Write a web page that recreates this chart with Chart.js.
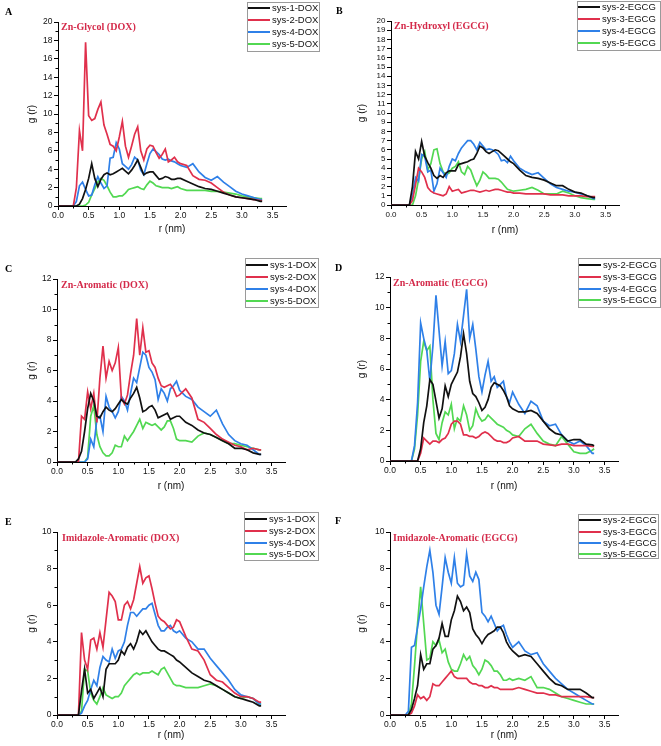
<!DOCTYPE html>
<html><head><meta charset="utf-8">
<script src="https://cdn.jsdelivr.net/npm/chart.js@4.4.0/dist/chart.umd.min.js"></script>
<style>
html,body{margin:0;padding:0;background:#fff;}
body{width:661px;height:746px;position:relative;overflow:hidden;}
canvas{position:absolute;}
</style></head><body>
<canvas id="cA"></canvas><canvas id="cB"></canvas><canvas id="cC"></canvas>
<canvas id="cD"></canvas><canvas id="cE"></canvas><canvas id="cF"></canvas>
<script>
// ---------- DATA ----------
const r = [0, 0.25,0.3,0.35,0.4,0.45,0.5,0.55,0.6,0.65,
  0.7,0.75,0.8,0.85,0.9,0.95,1.0,1.05,1.1,1.15,
  1.2,1.25,1.3,1.35,1.4,1.45,1.5,1.55,1.6,1.65,
  1.7,1.75,1.8,1.85,1.9,1.95,2.0,
  2.1,2.2,2.3,2.4,2.5,2.6,2.7,2.8,2.9,3.0,3.1,3.2,3.3,
  3.33];

// Panel A: Zn-Glycol (DOX)
const aSys1 = [0,0,0,0.2,0.8,1.8,3.0,4.6,3.0,2.1, 2.9,3.4,3.6,3.4,3.5,3.7,3.9,4.1,3.8,3.5, 3.9,4.4,5.0,4.2,3.4,3.6,3.7,3.7,3.3,2.9, 3.0,3.2,3.1,2.9,2.9,3.0,3.0, 2.7,2.4,2.1,1.9,1.8,1.6,1.4,1.2,1.0,0.9,0.8,0.7,0.5, 0.5];
const aSys2 = [0,0,2.0,8.2,6.0,17.8,9.8,9.3,9.5,10.5, 11.3,8.8,7.8,6.7,6.5,6.0,7.5,9.2,6.5,5.3, 6.5,7.8,8.6,6.0,5.0,6.2,6.6,6.5,5.8,5.2, 5.6,6.2,4.8,5.0,5.3,4.8,4.6, 4.4,3.3,2.9,2.8,2.5,2.0,1.5,1.2,1.0,0.9,0.8,0.7,0.6, 0.6];
const aSys4 = [0,0,0.5,2.2,2.6,1.8,1.1,1.2,2.3,3.2, 2.5,1.9,2.2,5.2,5.3,6.9,6.2,4.6,4.3,4.0, 4.5,5.3,5.0,3.9,3.4,4.6,5.7,6.2,5.9,5.6, 5.1,5.0,5.1,4.9,4.8,4.6,4.4, 4.2,4.6,3.7,3.1,2.8,3.2,2.6,2.1,1.6,1.3,1.1,0.9,0.7, 0.7];
const aSys5 = [0,0,0,0,0,0.1,0.4,1.2,1.9,2.6, 3.0,2.8,2.2,1.5,1.0,1.0,1.1,1.1,1.4,1.8, 1.9,2.0,2.1,1.9,1.8,2.3,2.7,2.5,2.2,2.1, 2.0,2.0,2.0,1.9,2.0,2.1,1.9, 1.7,1.7,1.7,1.7,1.6,1.6,1.5,1.4,1.3,1.1,1.0,0.9,0.8, 0.8];

// Panel B: Zn-Hydroxyl (EGCG)
const bSys2 = [0,0,0,2.0,5.8,5.0,6.9,5.3,4.6,4.0, 3.2,2.9,3.2,3.0,3.5,3.7,3.7,3.7,4.4,4.5, 4.6,4.7,4.9,5.0,5.6,6.4,6.2,5.8,5.6,5.8, 6.0,5.9,5.6,5.3,5.0,4.7,4.5, 3.8,3.2,3.0,2.9,2.7,2.4,2.1,2.1,1.7,1.4,1.3,1.0,0.8, 0.8];
const bSys3 = [0,0,0,0.5,2.2,4.0,3.6,3.0,1.9,1.5, 1.3,1.2,1.1,1.0,1.2,2.0,1.5,1.6,1.7,1.3, 1.4,1.5,1.6,1.6,1.5,1.4,1.5,1.6,1.5,1.6, 1.7,1.7,1.6,1.5,1.4,1.4,1.3, 1.3,1.2,1.2,1.2,1.2,1.1,1.1,1.1,1.0,1.0,1.0,0.9,0.9, 0.9];
const bSys4 = [0,0,0,1.0,3.0,2.6,5.5,5.3,3.6,3.8, 1.5,2.3,4.0,3.5,3.0,4.2,5.0,4.8,5.6,6.2, 6.6,7.0,7.0,6.6,6.0,6.8,6.4,6.0,6.1,6.0, 5.8,5.5,4.8,4.9,4.6,5.3,4.8, 4.0,3.6,3.3,3.5,2.9,2.3,1.9,1.7,1.5,1.4,1.2,1.0,0.7, 0.7];
const bSys5 = [0,0,0,0,1.0,2.8,5.0,5.8,3.8,4.5, 6.0,6.1,4.5,3.6,3.3,3.5,4.0,4.2,4.7,3.6, 3.3,4.2,3.8,2.9,2.1,2.7,3.6,3.3,2.9,2.9, 2.9,2.8,2.5,2.1,1.7,1.6,1.5, 1.6,1.7,1.9,1.6,1.2,1.2,1.2,1.5,1.3,1.0,0.8,0.7,0.6, 0.6];

// Panel C: Zn-Aromatic (DOX)
const cSys1 = [0,0,0,0.2,0.7,2.0,3.5,4.5,4.0,3.0, 2.9,3.3,3.6,3.4,3.3,3.5,3.8,4.1,3.9,3.8, 4.2,4.5,4.9,4.2,3.3,3.4,3.6,3.7,3.4,2.9, 3.0,3.1,3.2,2.8,2.9,3.0,3.0, 2.6,2.4,2.1,1.9,1.8,1.6,1.4,1.2,0.9,0.9,0.8,0.6,0.5, 0.5];
const cSys2 = [0,0,0,0,3.0,2.8,4.6,3.5,4.5,2.6, 5.5,7.6,5.5,6.6,6.0,6.5,7.5,4.2,3.8,4.4, 5.8,7.0,9.4,7.0,8.8,7.2,7.3,6.5,6.2,5.5, 5.0,4.9,5.0,5.1,4.8,4.3,4.4, 4.8,4.2,2.8,2.6,2.2,1.8,1.5,1.3,1.1,1.0,0.8,0.9,0.8, 0.8];
const cSys4 = [0,0,0,0,0,0,0.2,1.5,1.0,2.8, 3.0,2.0,4.3,3.6,3.3,2.9,3.3,4.3,4.0,3.4, 4.5,5.5,5.2,6.2,7.2,7.0,6.2,5.9,5.4,4.1, 4.8,4.5,4.0,4.8,5.0,5.3,4.7, 4.3,4.1,3.6,3.3,3.0,3.4,2.5,1.8,1.4,1.2,1.1,0.8,0.5, 0.5];
const cSys5 = [0,0,0,0,0,0,0.3,3.0,3.7,1.8, 1.0,0.6,0.4,0.4,0.6,1.1,1.0,1.0,1.7,1.4, 1.7,2.0,2.4,2.8,2.2,2.6,2.5,2.4,2.5,2.3, 2.1,2.3,2.7,2.7,2.2,1.5,1.4, 1.4,1.3,1.7,1.9,1.8,1.6,1.4,1.2,1.2,1.1,1.0,0.9,0.8, 0.8];

// Panel D: Zn-Aromatic (EGCG)
const dSys2 = [0,0,0,0,0,0,0.8,2.5,3.6,5.3, 5.0,3.9,2.8,3.4,4.9,4.2,5.0,5.4,5.8,6.8, 8.3,7.0,5.2,4.4,4.2,3.8,3.3,3.5,4.0,4.8, 5.1,5.0,4.9,4.6,4.2,3.6,3.4, 3.2,3.2,3.3,3.1,2.6,2.1,1.8,1.7,1.3,1.4,1.4,1.1,1.05, 1.0];
const dSys3 = [0,0,0,0,0,0,0.5,1.5,1.3,1.1, 1.3,1.3,1.2,1.4,1.5,1.8,2.4,2.6,2.6,2.4, 1.7,1.7,1.6,1.6,1.5,1.6,1.8,1.9,1.8,1.6, 1.4,1.3,1.3,1.2,1.2,1.3,1.5, 1.6,1.3,1.3,1.3,1.1,1.05,1.0,1.1,1.1,1.0,1.0,1.0,0.95, 0.95];
const dSys4 = [0,0,0,0,1.0,3.8,9.0,8.0,7.2,5.2, 7.5,10.8,8.5,6.2,7.8,5.7,5.9,7.0,8.9,7.8, 9.5,11.2,8.0,8.9,7.3,5.5,4.5,5.6,6.5,5.2, 5.5,4.8,5.0,5.2,4.2,3.8,4.5, 3.7,3.1,3.9,3.6,2.6,2.3,2.4,1.7,1.3,1.1,1.3,1.0,0.5, 0.5];
const dSys5 = [0,0,0,0,0.8,3.0,6.5,7.8,7.2,7.5, 4.0,1.8,1.4,2.5,3.2,3.0,3.7,2.1,2.8,2.6, 3.6,3.0,2.0,2.3,3.4,2.9,2.6,2.7,3.0,2.8, 2.6,2.4,2.3,2.2,2.0,1.9,1.7, 1.6,2.1,2.4,1.8,1.3,1.1,1.0,1.6,1.1,0.6,0.5,0.5,0.7, 0.8];

// Panel E: Imidazole-Aromatic (DOX)
const eSys1 = [0,0,0,0,1.3,2.5,1.2,1.4,0.9,1.2, 1.5,1.0,2.5,2.8,2.8,2.8,3.0,3.5,3.3,3.7, 3.9,3.6,4.0,4.6,4.4,4.6,4.3,4.0,3.8,3.6, 3.5,3.5,3.4,3.3,3.2,3.0,2.9, 2.6,2.3,2.1,1.9,1.8,1.6,1.4,1.2,1.0,0.9,0.8,0.7,0.5, 0.5];
const eSys2 = [0,0,0,0,4.5,3.0,2.5,4.1,4.2,3.6, 4.5,3.7,5.2,6.7,6.5,6.2,5.2,5.2,6.0,6.2, 5.8,6.3,7.2,8.1,7.2,7.5,7.6,6.9,6.1,5.4, 5.2,5.1,4.9,4.7,4.8,5.2,5.1, 4.3,3.6,3.5,3.0,2.2,1.9,1.8,1.5,1.2,1.0,1.0,0.9,0.7, 0.7];
const eSys4 = [0,0,0,0,0.1,0.5,0.8,1.4,1.9,1.6, 2.6,3.2,3.0,2.9,3.6,3.1,3.5,3.6,4.0,4.9, 5.6,5.6,5.4,5.6,5.8,5.8,6.0,6.1,5.5,4.9, 4.6,4.6,4.8,4.9,4.6,4.5,4.6, 4.2,4.0,3.6,3.6,3.1,2.7,2.3,1.9,1.4,1.1,1.0,0.9,0.6, 0.6];
const eSys5 = [0,0,0,0,0.2,2.5,2.4,1.2,0.8,0.6, 1.0,1.5,1.1,1.0,0.9,1.0,1.0,1.2,1.6,1.8, 2.0,2.2,2.3,2.2,2.3,2.3,2.3,2.4,2.3,2.2, 2.5,2.6,2.3,2.0,1.7,1.6,1.6, 1.5,1.5,1.5,1.6,1.7,1.6,1.4,1.2,1.0,0.9,1.0,0.9,0.6, 0.6];

// Panel F: Imidazole-Aromatic (EGCG)
const fSys2 = [0,0,0,0.3,0.9,1.6,3.3,2.5,2.8,2.8, 3.6,3.8,4.2,5.0,4.3,4.3,5.2,5.7,6.5,6.2, 5.7,5.9,5.6,4.7,4.4,4.2,3.9,4.2,4.4,4.5, 4.6,4.8,4.8,4.5,4.0,3.7,3.5, 3.2,3.3,3.2,2.8,2.4,2.0,1.7,1.6,1.4,1.4,1.4,1.2,0.95, 0.95];
const fSys3 = [0,0,0,0.1,0.5,1.1,0.9,1.0,0.8,1.0, 1.7,1.6,1.6,1.8,2.0,2.2,2.4,2.1,2.0,2.0, 2.0,2.0,1.8,1.7,1.7,1.6,1.6,1.5,1.5,1.6, 1.5,1.5,1.4,1.4,1.4,1.4,1.4, 1.5,1.4,1.3,1.2,1.2,1.1,1.1,1.0,1.0,1.0,1.0,1.0,0.95, 0.95];
const fSys4 = [0,0,0.2,3.7,3.8,4.8,5.8,7.0,8.1,9.0, 7.8,6.0,5.5,7.0,8.6,7.8,7.2,8.6,7.2,7.0, 7.1,8.8,7.6,7.3,7.8,7.4,5.6,5.4,5.1,5.4, 5.0,4.6,4.8,4.9,4.4,4.0,3.7, 4.0,3.5,3.3,3.4,2.8,2.4,2.0,1.7,1.4,1.2,1.0,0.8,0.6, 0.6];
const fSys5 = [0,0,0,0.6,2.7,5.0,7.0,5.0,3.0,3.1, 4.0,3.8,4.1,3.4,3.6,2.9,2.5,2.4,2.4,2.8, 3.3,3.0,3.2,2.7,2.5,2.2,2.5,3.0,2.9,2.7, 2.4,2.4,2.2,1.9,1.9,2.0,1.9, 2.0,1.9,2.1,1.5,1.5,1.4,1.2,1.0,0.9,0.8,0.7,0.6,0.6, 0.6];

const doxLabels  = ['sys-1-DOX','sys-2-DOX','sys-4-DOX','sys-5-DOX'];
const egcgLabels = ['sys-2-EGCG','sys-3-EGCG','sys-4-EGCG','sys-5-EGCG'];
const panelLetters = ['A','B','C','D','E','F'];
const panelTitles = ['Zn-Glycol (DOX)','Zn-Hydroxyl (EGCG)','Zn-Aromatic (DOX)','Zn-Aromatic (EGCG)','Imidazole-Aromatic (DOX)','Imidazole-Aromatic (EGCG)'];
const yMaxes = [20,20,12,12,10,10];
const ySteps = [2,1,2,2,2,2];
const xTickStep = 0.5, xLastTick = 3.5, xAxisMax = 3.72;
const xAxisLabel = 'r (nm)', yAxisLabel = 'g (r)';

const panelSeries = [
  [aSys1,aSys2,aSys4,aSys5],[bSys2,bSys3,bSys4,bSys5],
  [cSys1,cSys2,cSys4,cSys5],[dSys2,dSys3,dSys4,dSys5],
  [eSys1,eSys2,eSys4,eSys5],[fSys2,fSys3,fSys4,fSys5]
];
const panelLabels = [doxLabels,egcgLabels,doxLabels,egcgLabels,doxLabels,egcgLabels];

// ---------- STYLE / LAYOUT ----------
const seriesColors = ['#111111','#e0304c','#2f80e8','#52d852'];
const boxes = [
  {id:'cA',cx:0,  cy:0,  w:330,h:245,x0:58, yTop:22, y0:206,xT:229,yT:32, leg:[247,2,319,51],  rows:[8,20,32,44],  letter:[5,12],  title:[61,27]},
  {id:'cB',cx:330,cy:0,  w:331,h:245,x0:391,yTop:21, y0:205,xT:230,yT:362,leg:[577,1,660,50],  rows:[7,19,31,43],  letter:[336,11],title:[394,26]},
  {id:'cC',cx:0,  cy:250,w:330,h:245,x0:57, yTop:279,y0:462,xT:486,yT:32, leg:[245,258,318,307],rows:[265,277,289,301],letter:[5,269],title:[61,285]},
  {id:'cD',cx:330,cy:250,w:331,h:245,x0:390,yTop:277,y0:461,xT:486,yT:362,leg:[578,258,660,307],rows:[265,277,289,300],letter:[335,268],title:[393,283]},
  {id:'cE',cx:0,  cy:500,w:330,h:246,x0:57, yTop:532,y0:715,xT:735,yT:32, leg:[244,512,318,560],rows:[519,531,543,554],letter:[5,522],title:[62,538]},
  {id:'cF',cx:330,cy:500,w:331,h:246,x0:390,yTop:532,y0:715,xT:735,yT:362,leg:[578,514,658,558],rows:[520,532,543,554],letter:[335,521],title:[393,538]}
];
const pxPerNm = 61.3;
const sans = '"Liberation Sans", Arial, sans-serif';
const serif = '"Liberation Serif", "Times New Roman", serif';

const decor = {
  id:'decor',
  afterDraw(chart, args, o) {
    const ctx = chart.ctx, B = o.box, ox = B.cx, oy = B.cy;
    const xs = chart.scales.x, ys = chart.scales.y;
    ctx.save();
    ctx.strokeStyle = '#000'; ctx.lineWidth = 1;
    ctx.beginPath();
    for (let v = xTickStep/2; v < xs.max; v += xTickStep) {
      const px = Math.round(xs.getPixelForValue(v)) + 0.5;
      ctx.moveTo(px, xs.top); ctx.lineTo(px, xs.top + 2.5);
    }
    if (o.yMinor) {
      for (let v = o.yMinor; v < ys.max; v += o.yMinor*2) {
        const py = Math.round(ys.getPixelForValue(v)) + 0.5;
        ctx.moveTo(ys.right, py); ctx.lineTo(ys.right - 2.5, py);
      }
    }
    ctx.stroke();
    ctx.fillStyle = '#d42a4a';
    ctx.font = 'bold 10px ' + serif;
    ctx.textBaseline = 'middle'; ctx.textAlign = 'left';
    ctx.fillText(o.title, B.title[0]-ox, B.title[1]-oy);
    ctx.fillStyle = '#000';
    ctx.font = 'bold 10px ' + serif;
    ctx.fillText(o.letter, B.letter[0]-ox, B.letter[1]-oy);
    const L = B.leg;
    ctx.strokeStyle = '#9a9a9a'; ctx.lineWidth = 1;
    ctx.strokeRect(L[0]-ox+0.5, L[1]-oy+0.5, L[2]-L[0], L[3]-L[1]);
    ctx.font = '9.5px ' + sans;
    chart.data.datasets.forEach((ds, i) => {
      const y = B.rows[i]-oy;
      ctx.strokeStyle = ds.borderColor; ctx.lineWidth = 2;
      ctx.beginPath(); ctx.moveTo(L[0]-ox+1, y); ctx.lineTo(L[0]-ox+23, y); ctx.stroke();
      ctx.fillStyle = '#111';
      ctx.fillText(ds.label, L[0]-ox+25, y);
    });
    ctx.restore();
  }
};

boxes.forEach((B, p) => {
  const cv = document.getElementById(B.id);
  cv.width = B.w; cv.height = B.h;
  cv.style.left = B.cx + 'px'; cv.style.top = B.cy + 'px';
  const xEnd = B.x0 + xAxisMax * pxPerNm;
  const datasets = panelSeries[p].map((arr, i) => ({
    label: panelLabels[p][i],
    data: r.map((x, k) => ({x: x, y: arr[k]})),
    borderColor: seriesColors[i],
    borderWidth: 1.7,
    pointRadius: 0,
    tension: 0,
    fill: false
  }));
  const tickFont = {family: sans, size: p === 1 ? 8 : 8.5};
  const titleFont = {family: sans, size: 10};
  new Chart(cv, {
    type: 'line',
    data: {datasets},
    options: {
      responsive: false, animation: false, devicePixelRatio: 1,
      layout: {padding: {left: 0, top: B.yTop - B.cy, right: B.cx + B.w - xEnd, bottom: 0}},
      plugins: {
        legend: {display: false}, tooltip: {enabled: false},
        decor: {box: B, title: panelTitles[p], letter: panelLetters[p], yMinor: p === 1 ? 0 : ySteps[p]/2}
      },
      scales: {
        x: {
          type: 'linear', min: 0, max: xAxisMax,
          afterFit: s => { s.height = B.cy + B.h - B.y0; },
          afterBuildTicks: s => { s.ticks = s.ticks.filter(t => t.value <= xLastTick + 1e-6); },
          ticks: {stepSize: xTickStep, includeBounds: false, autoSkip: false, maxRotation: 0, color: '#111', font: tickFont, padding: 1,
                  callback: v => Number(v).toFixed(1)},
          grid: {display: true, drawOnChartArea: false, drawTicks: true, tickLength: 4, color: '#000'},
          border: {display: true, color: '#000', width: 1},
          title: {display: true, text: xAxisLabel, color: '#111', font: titleFont,
                  padding: {top: 0, bottom: B.cy + B.h - B.xT - 6}}
        },
        y: {
          type: 'linear', min: 0, max: yMaxes[p],
          afterFit: s => { s.width = B.x0 - B.cx; },
          ticks: {stepSize: ySteps[p], autoSkip: false, color: '#111', font: tickFont, padding: 1.5},
          grid: {display: true, drawOnChartArea: false, drawTicks: true, tickLength: 4, color: '#000'},
          border: {display: true, color: '#000', width: 1},
          title: {display: true, text: yAxisLabel, color: '#111', font: titleFont,
                  padding: {top: B.yT - B.cx - 6, bottom: 0}}
        }
      }
    },
    plugins: [decor]
  });
});
</script>
</body></html>
